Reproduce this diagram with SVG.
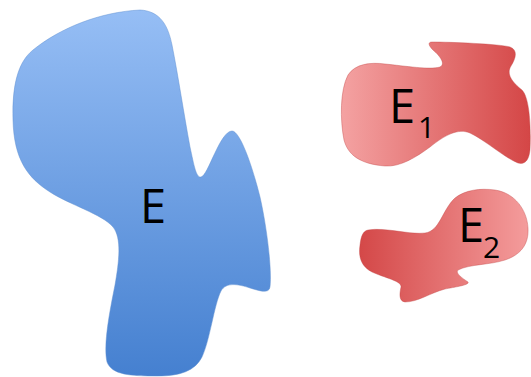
<svg xmlns="http://www.w3.org/2000/svg" width="531" height="377" viewBox="0 0 531 377">
<style>
.lbl{font-family:"Open Sans","Noto Sans","Liberation Sans",sans-serif;fill:#000;}
.big{font-size:47px;}
.sub{font-size:30px;}
.blob-b{fill:url(#gb);stroke:#5f8fd0;stroke-width:0.8;stroke-opacity:0.6;}
.blob-r1{fill:url(#gr1);stroke:#c24545;stroke-width:0.8;stroke-opacity:0.5;}
.blob-r2{fill:url(#gr2);stroke:#c24545;stroke-width:0.8;stroke-opacity:0.5;}
</style>
<defs>
<linearGradient id="gb" x1="0" y1="0" x2="0" y2="1">
<stop offset="0" stop-color="#96BEF5"/>
<stop offset="1" stop-color="#4580D0"/>
</linearGradient>
<linearGradient id="gr1" x1="0" y1="0" x2="1" y2="0">
<stop offset="0" stop-color="#F4A2A2"/>
<stop offset="1" stop-color="#D44646"/>
</linearGradient>
<linearGradient id="gr2" x1="0" y1="0" x2="1" y2="0">
<stop offset="0" stop-color="#D44848"/>
<stop offset="1" stop-color="#F49C9C"/>
</linearGradient>
</defs>
<rect width="531" height="377" fill="#fff"/>
<g id="connectors"></g>
<g id="node-E">
<path class="blob-b" d="M 140,10 C 160,11 168,25 172,45 C 178,75 184,115 190,147 C 194,165 196,178 201,177 C 208,176 220,131 232,131 C 240,131 252,165 260,197 C 267,228 272,270 270,287 C 269,294 260,291 250,288 C 238,284 226,282 221,291 C 214,305 210,340 202,357 C 195,371 180,376 158,376 C 130,376 112,375 107,362 C 103,345 110,310 115,285 C 119,262 122,238 113,227 C 102,214 70,205 50,192 C 28,178 14,160 13,120 C 12,85 18,62 33,50 C 60,28 100,12 140,10 Z"/>
<text class="lbl big" x="140" y="223">E</text>
</g>
<g id="node-E1">
<path class="blob-r1" d="M 432,42 C 450,42 500,44 510,47 C 518,50 516,58 511,66 C 506,74 512,82 522,90 C 530,98 531,130 530,150 C 529,160 525,165 518,163 C 505,158 485,140 470,133 C 458,128 445,135 430,147 C 415,158 400,167 385,166 C 360,164 348,155 344,140 C 340,120 340,90 348,75 C 355,64 370,62 385,64 C 405,66 430,70 440,67 C 446,64 440,56 433,50 C 428,45 428,42 432,42 Z"/>
<text class="lbl big" x="389" y="123">E</text>
<text class="lbl sub" x="418" y="138">1</text>
</g>
<g id="node-E2">
<path class="blob-r2" d="M 368,230 C 385,227 410,235 425,233 C 440,231 442,210 455,198 C 465,190 480,188 495,190 C 515,193 527,210 528,228 C 529,245 520,255 505,260 C 490,265 470,264 458,270 C 455,273 462,278 468,282 C 470,285 455,287 445,289 C 430,293 418,302 405,302 C 398,301 400,292 401,287 C 402,281 385,278 372,272 C 362,267 358,258 360,245 C 361,236 363,231 368,230 Z"/>
<text class="lbl big" x="458" y="242">E</text>
<text class="lbl sub" x="483" y="258">2</text>
</g>
</svg>
